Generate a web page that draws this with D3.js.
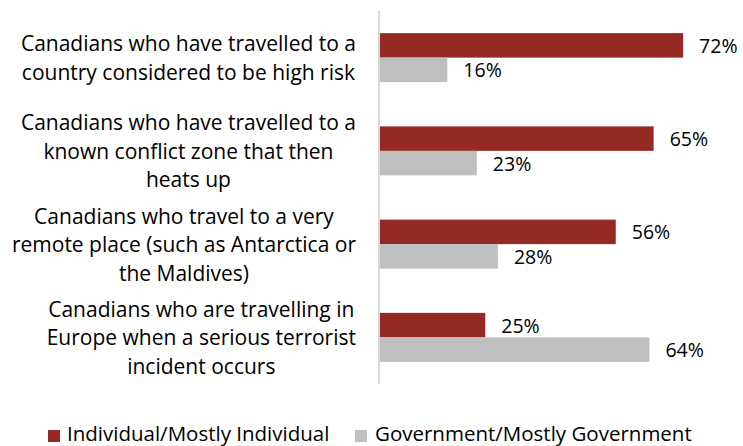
<!DOCTYPE html>
<html>
<head>
<meta charset="utf-8">
<script src="https://cdn.jsdelivr.net/npm/d3@7"></script>
<style>
  html, body { margin: 0; padding: 0; background: #fff; }
  svg { display: block; }
  text { font-family: "Open Sans", "Noto Sans", sans-serif; fill: #000; }
</style>
</head>
<body>
<svg id="chart" width="743" height="446"></svg>
<script>
const categories = [
  ["Canadians who have travelled to a", "country considered to be high risk"],
  ["Canadians who have travelled to a", "known conflict zone that then", "heats up"],
  ["Canadians who travel to a very", "remote place (such as Antarctica or", "the Maldives)"],
  ["Canadians who are travelling in", "Europe when a serious terrorist", "incident occurs"]
];
const seriesNames = ["Individual/Mostly Individual", "Government/Mostly Government"];
const individual = [72, 65, 56, 25];
const government = [16, 23, 28, 64];
const colors = ["#952923", "#bfbfbf"];

const svg = d3.select("#chart");
const catIdx = categories.map((d, i) => i);
const data = catIdx.map(i => ({ i, values: [individual[i], government[i]] }));

const x = d3.scaleLinear().domain([0, 80]).range([380, 380 + 4.21 * 80]);
const y0 = d3.scaleBand().domain(catIdx).range([11, 384]).padding(0);
const step = y0.bandwidth();
const barH = 24.5;
const y1 = d3.scaleBand().domain([0, 1])
  .range([(step - 2 * barH) / 2, (step + 2 * barH) / 2]).padding(0);

const fs = 21;
const fsLeg = 20.5;
const fsVal = 19.5;

// bars
const g = svg.selectAll("g.cat").data(data).join("g")
  .attr("class", "cat")
  .attr("transform", d => `translate(0,${y0(d.i)})`);

g.selectAll("rect").data(d => d.values.map((v, s) => ({ v, s }))).join("rect")
  .attr("x", x(0))
  .attr("y", d => y1(d.s))
  .attr("width", d => x(d.v) - x(0))
  .attr("height", y1.bandwidth())
  .attr("fill", d => colors[d.s]);

g.selectAll("text.val").data(d => d.values.map((v, s) => ({ v, s }))).join("text")
  .attr("class", "val")
  .attr("x", d => x(d.v) + 16)
  .attr("y", d => y1(d.s) + y1.bandwidth() / 2)
  .attr("dominant-baseline", "central")
  .style("font-size", fsVal + "px")
  .text(d => d.v + "%");

// axis line
svg.append("line")
  .attr("x1", 379).attr("x2", 379)
  .attr("y1", y0.range()[0]).attr("y2", y0.range()[1])
  .attr("stroke", "#d9d9d9").attr("stroke-width", 2);

// category labels
const lineH = 28.5;
const rightEdge = 356;
categories.forEach((lines, i) => {
  const cy = y0(i) + step / 2;
  const lg = svg.append("g");
  const ts = lines.map((l, k) => lg.append("text")
    .attr("y", cy + (k - (lines.length - 1) / 2) * lineH)
    .attr("dominant-baseline", "central")
    .attr("text-anchor", "middle")
    .style("font-size", fs + "px")
    .text(l));
  const maxW = d3.max(ts, t => t.node().getComputedTextLength());
  ts.forEach(t => t.attr("x", rightEdge - maxW / 2));
});

// legend
const legendBase = 441;
const leg = [[48, 67], [355, 375]];
seriesNames.forEach((name, s) => {
  svg.append("rect")
    .attr("x", leg[s][0]).attr("y", 430)
    .attr("width", 12).attr("height", 12)
    .attr("fill", colors[s]);
  svg.append("text")
    .attr("x", leg[s][1]).attr("y", legendBase)
    .style("font-size", fsLeg + "px")
    .text(name);
});
</script>
</body>
</html>
